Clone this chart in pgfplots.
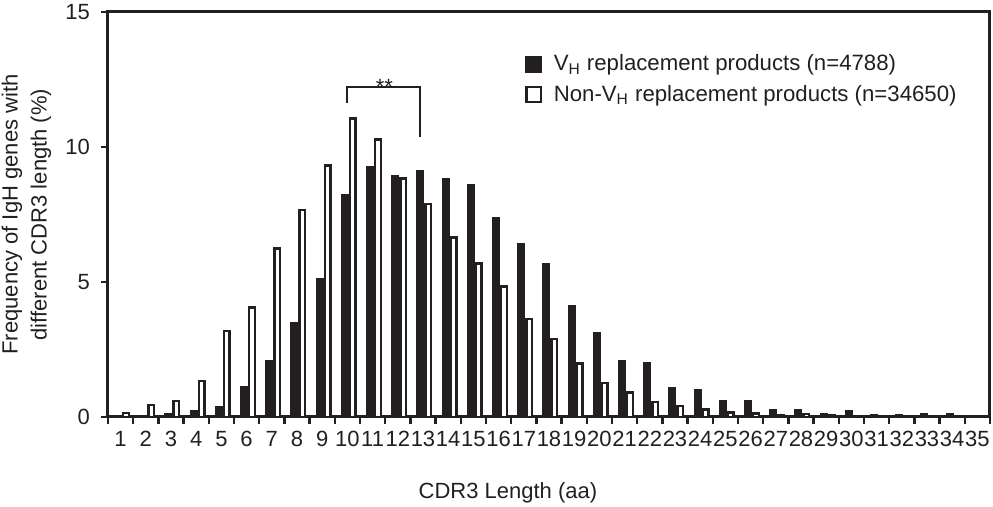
\documentclass[border=0pt]{standalone}
\usepackage{pgfplots}
\pgfplotsset{compat=1.18}
\usepackage{fontspec}
\setmainfont{Liberation Sans}
\definecolor{ink}{HTML}{231F20}
\pgfplotstableread{
x vh non
1 0 0.15
2 0 0.44
3 0.12 0.59
4 0.2 1.33
5 0.35 3.18
6 1.12 4.06
7 2.05 6.24
8 3.46 7.67
9 5.11 9.32
10 8.22 11.05
11 9.27 10.28
12 8.9 8.83
13 9.12 7.89
14 8.79 6.65
15 8.6 5.69
16 7.35 4.83
17 6.41 3.62
18 5.65 2.88
19 4.12 1.98
20 3.11 1.26
21 2.07 0.9
22 1.98 0.56
23 1.07 0.4
24 1.01 0.27
25 0.58 0.16
26 0.58 0.13
27 0.25 0.05
28 0.25 0.12
29 0.1 0.07
30 0.2 0.03
31 0.05 0.02
32 0.05 0.02
33 0.1 0.02
34 0.1 0.01
35 0 0
}\datatable
\begin{document}
\begin{tikzpicture}
\path[use as bounding box] (-54pt,-45pt) rectangle (442.5pt,208.5pt);
\begin{axis}[
  name=ax,
  at={(0,0)}, anchor=south west,
  width=441pt, height=202.5pt, scale only axis,
  xmin=0.5, xmax=35.5, ymin=0, ymax=15,
  xtick={1,...,35},
  minor xtick={0.5,1.5,...,35.5},
  ytick={0,5,10,15},
  yticklabels={0,5,10,15},
  tick pos=left, tick align=outside,
  major tick length=3.5pt, minor tick length=3.5pt,
  major x tick style={draw=none},
  every tick/.style={ink, line width=1.2pt},
  axis line style={ink, line width=1.5pt},
  tick label style={font=\fontsize{11}{13}\selectfont, text=ink, /pgf/number format/assume math mode=true},
  xticklabel style={inner xsep=0pt},
  yticklabel style={xshift=-2pt},
  label style={font=\fontsize{11}{14.5}\selectfont, text=ink},
  xlabel={CDR3 Length (aa)},
  xlabel style={at={(axis description cs:0.4535,-0.1877)}, anchor=center},
  ylabel={Frequency of IgH genes with\\different CDR3 length (\%)},
  ylabel style={align=center, at={(axis description cs:-0.0924,0.5)}, anchor=center},
  ybar, bar width=2.8pt,
  legend style={at={(axis description cs:0.4728,0.905)}, anchor=north west, draw=none, fill=none,
    font=\fontsize{11.1}{13}\selectfont, text=ink, inner sep=0pt, row sep=1.5pt,
    cells={anchor=west}},
  legend image code/.code={\draw[#1, bar shift=0pt] (0pt,-3.65pt) rectangle (7.3pt,3.65pt);\path (11pt,0pt);},
]
\addplot[draw=ink, fill=ink, line width=1.2pt, bar shift=-1.25pt] table[x=x, y=vh] {\datatable};
\addplot[draw=ink, fill=white, line width=1.2pt, bar shift=2.75pt] table[x=x, y=non] {\datatable};
\legend{V\textsubscript{H} replacement products (n=4788), Non-V\textsubscript{H} replacement products (n=34650)}
\draw[ink, line width=1pt] (axis cs:9.97,11.63) -- (axis cs:9.97,12.21) -- (axis cs:12.88,12.21) -- (axis cs:12.88,10.38);
\node[anchor=base, inner sep=0pt, text=ink, font=\fontsize{11}{13}\selectfont] at (axis cs:11.47,11.96) {**};
\end{axis}
\draw[ink, line width=1.5pt, line cap=rect] (ax.north west) -- (ax.north east) -- (ax.south east);
\end{tikzpicture}
\end{document}
